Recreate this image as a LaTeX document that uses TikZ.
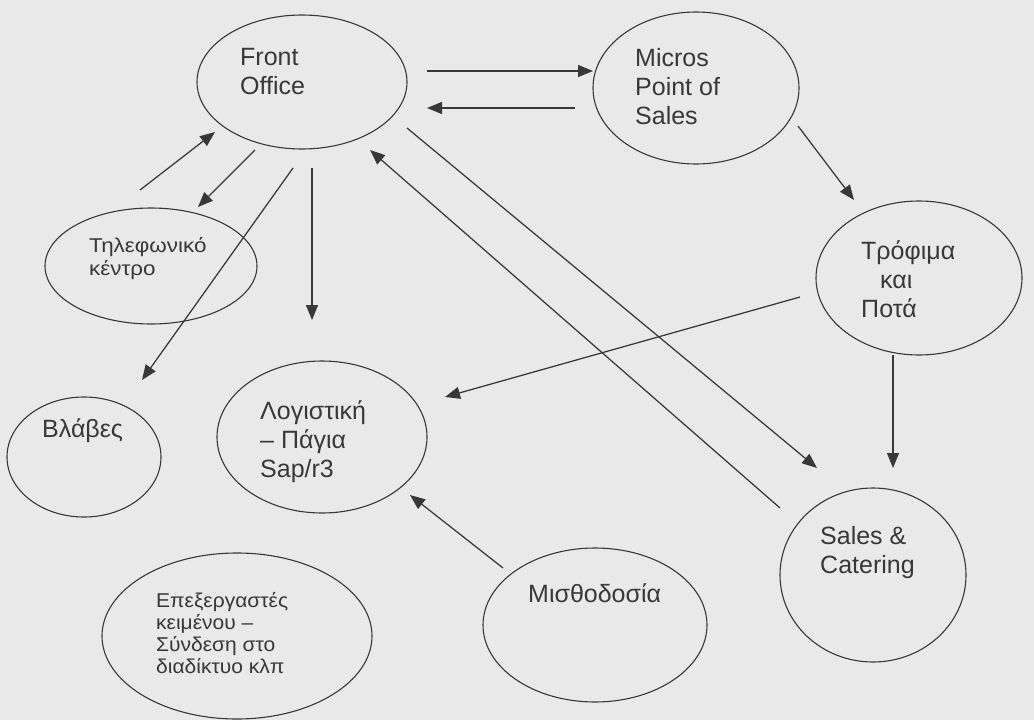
\documentclass[tikz,border=0pt]{standalone}
\usepackage{fontspec}
\setmainfont{Liberation Sans}
\usetikzlibrary{shapes.geometric,arrows.meta}
\definecolor{paper}{HTML}{E9E9E9}
\definecolor{ink}{HTML}{383838}
\begin{document}
\begin{tikzpicture}[x=1pt,y=-1pt,
  bubble/.style={draw=ink, line width=1.1pt, ellipse, inner sep=0pt},
  label/.style={anchor=north west, inner sep=0pt, text=ink, align=left,
                font=\fontsize{25}{29}\selectfont},
  small/.style={label, font=\fontsize{20}{23}\selectfont},
  flow/.style={draw=ink, line width=1.25pt, -{Triangle[length=15pt,width=12pt]}}]
% page
\fill[paper] (0,0) rectangle (1034,720);
\useasboundingbox (0,0) rectangle (1034,720);

% systems
\node[bubble, minimum width=210pt, minimum height=134pt] (fo) at (302,82) {};
\node[bubble, minimum width=206pt, minimum height=152pt] (mi) at (696,88) {};
\node[bubble, minimum width=206pt, minimum height=154pt] (tr) at (919,278) {};
\node[bubble, minimum width=212pt, minimum height=116pt] (tk) at (151,266) {};
\node[bubble, minimum width=154pt, minimum height=120pt] (vl) at (84,457) {};
\node[bubble, minimum width=210pt, minimum height=152pt] (lo) at (322,437) {};
\node[bubble, minimum width=270pt, minimum height=166pt] (ep) at (237,636) {};
\node[bubble, minimum width=224pt, minimum height=154pt] (mt) at (595,625) {};
\node[bubble, minimum width=186pt, minimum height=174pt] (sc) at (873,575) {};

% labels
\node[label] (fo-t) at (240,48) {Front\\Office};
\node[label] (mi-t) at (635,48) {Micros\\Point of\\Sales};
\node[label] (tr-t) at (861,240) {Τρόφιμα\\\hspace*{19pt}και\\Ποτά};
\node[small, xscale=1.12] (tk-t) at (89,237) {Τηλεφωνικό\\κέντρο};
\node[label] (vl-t) at (42,418) {Βλάβες};
\node[label] (lo-t) at (260,400) {Λογιστική\\– Πάγια\\Sap/r3};
\node[small, xscale=1.05, font=\fontsize{20}{22}\selectfont] (ep-t) at (156,592)
  {Επεξεργαστές\\κειμένου –\\Σύνδεση στο\\διαδίκτυο κλπ};
\node[label] (mt-t) at (528,583) {Μισθοδοσία};
\node[label] (sc-t) at (820,526) {Sales \&\\Catering};

% connector ends
\coordinate (fo-mi-a) at (427,71);  \coordinate (fo-mi-b) at (593,71);
\coordinate (mi-fo-a) at (575,108); \coordinate (mi-fo-b) at (427,108);
\coordinate (tk-fo-a) at (140,190); \coordinate (tk-fo-b) at (215,132);
\coordinate (fo-tk-a) at (255,150); \coordinate (fo-tk-b) at (198,207);
\coordinate (fo-vl-a) at (293,168); \coordinate (fo-vl-b) at (142,380);
\coordinate (fo-lo-a) at (312,168); \coordinate (fo-lo-b) at (312,320);
\coordinate (sc-fo-a) at (780,508); \coordinate (sc-fo-b) at (370,150);
\coordinate (fo-sc-a) at (407,128); \coordinate (fo-sc-b) at (817,468);
\coordinate (mi-tr-a) at (798,126); \coordinate (mi-tr-b) at (854,200);
\coordinate (tr-lo-a) at (800,297); \coordinate (tr-lo-b) at (445,397);
\coordinate (tr-sc-a) at (893,355); \coordinate (tr-sc-b) at (893,468);
\coordinate (mt-lo-a) at (503,568); \coordinate (mt-lo-b) at (410,495);

% data flows
\draw[flow] (fo-mi-a) -- (fo-mi-b);
\draw[flow] (mi-fo-a) -- (mi-fo-b);
\draw[flow] (tk-fo-a) -- (tk-fo-b);
\draw[flow] (fo-tk-a) -- (fo-tk-b);
\draw[flow] (fo-vl-a) -- (fo-vl-b);
\draw[flow] (fo-lo-a) -- (fo-lo-b);
\draw[flow] (sc-fo-a) -- (sc-fo-b);
\draw[flow] (fo-sc-a) -- (fo-sc-b);
\draw[flow] (mi-tr-a) -- (mi-tr-b);
\draw[flow] (tr-lo-a) -- (tr-lo-b);
\draw[flow] (tr-sc-a) -- (tr-sc-b);
\draw[flow] (mt-lo-a) -- (mt-lo-b);
\end{tikzpicture}
\end{document}
